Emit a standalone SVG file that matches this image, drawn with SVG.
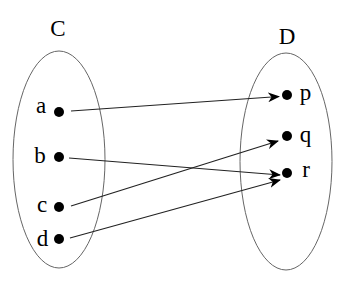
<svg xmlns="http://www.w3.org/2000/svg" width="353" height="294" viewBox="0 0 353 294">
<defs>
<style>
.set{fill:none;stroke:#666;stroke-width:1}
.dot{fill:#000}
.lbl{font-family:"Liberation Serif","DejaVu Serif",serif;font-size:23px;fill:#000}
.edge{stroke:#222;stroke-width:1.2;fill:none;marker-end:url(#ah)}
</style>
<marker id="ah" viewBox="0 0 12 10" refX="11" refY="5" markerWidth="12" markerHeight="10" markerUnits="userSpaceOnUse" orient="auto">
<path d="M0,0 L12,5 L0,10 L3.5,5 Z" fill="#000"/>
</marker>
</defs>
<rect width="353" height="294" fill="#fff"/>
<g id="setC">
<ellipse class="set" cx="59" cy="159.5" rx="46" ry="108.5"/>
<text class="lbl" x="58" y="36" text-anchor="middle">C</text>
</g>
<g id="setD">
<ellipse class="set" cx="286" cy="161.5" rx="46" ry="108.5"/>
<text class="lbl" x="287" y="44" text-anchor="middle">D</text>
</g>
<g id="a"><circle class="dot" cx="59" cy="112" r="5"/><text class="lbl" x="41" y="113" text-anchor="middle">a</text></g>
<g id="b"><circle class="dot" cx="59" cy="157" r="5"/><text class="lbl" x="40" y="163" text-anchor="middle">b</text></g>
<g id="c"><circle class="dot" cx="59" cy="207" r="5"/><text class="lbl" x="42" y="212" text-anchor="middle">c</text></g>
<g id="d"><circle class="dot" cx="59" cy="239" r="5"/><text class="lbl" x="42.5" y="246" text-anchor="middle">d</text></g>
<g id="p"><circle class="dot" cx="287" cy="95" r="5"/><text class="lbl" x="305.5" y="100" text-anchor="middle">p</text></g>
<g id="q"><circle class="dot" cx="287" cy="136" r="5"/><text class="lbl" x="305.5" y="142" text-anchor="middle">q</text></g>
<g id="r"><circle class="dot" cx="287" cy="173" r="5"/><text class="lbl" x="306" y="177" text-anchor="middle">r</text></g>
<g id="edges">
<line class="edge" x1="71" y1="111" x2="279" y2="96.5"/>
<line class="edge" x1="69" y1="158" x2="280" y2="175"/>
<line class="edge" x1="71" y1="206" x2="278" y2="141"/>
<line class="edge" x1="70" y1="238" x2="280" y2="180"/>
</g>
</svg>
